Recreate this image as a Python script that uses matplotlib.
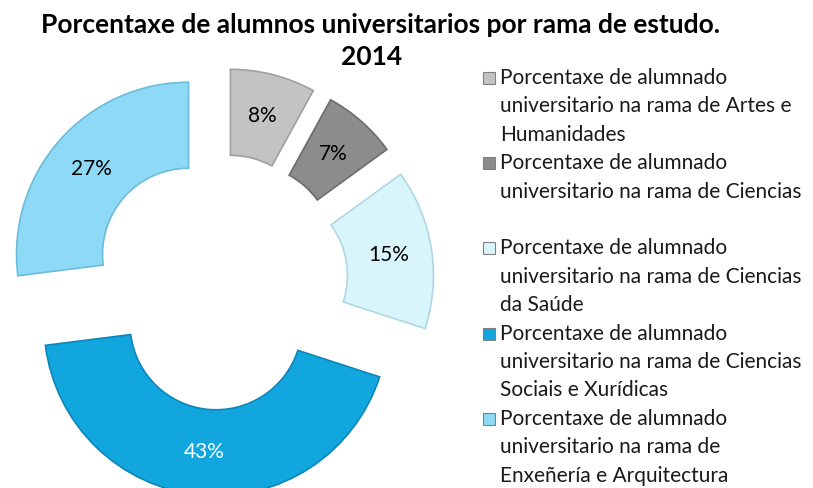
import matplotlib.pyplot as plt
from matplotlib.patches import Rectangle

# data
values = [8, 7, 15, 43, 27]
legend_labels = [
    ['Porcentaxe de alumnado', 'universitario na rama de Artes e', 'Humanidades'],
    ['Porcentaxe de alumnado', 'universitario na rama de Ciencias'],
    ['Porcentaxe de alumnado', 'universitario na rama de Ciencias', 'da Saúde'],
    ['Porcentaxe de alumnado', 'universitario na rama de Ciencias', 'Sociais e Xurídicas'],
    ['Porcentaxe de alumnado', 'universitario na rama de', 'Enxeñería e Arquitectura'],
]
title = 'Porcentaxe de alumnos universitarios por rama de estudo.'
subtitle = '2014'

colors = ['#c3c3c3', '#8c8c8c', '#d9f5fc', '#12a6df', '#8ed9f6']
edge_colors = ['#a0a0a0', '#6c6c6c', '#aed8e4', '#0c86b8', '#6cbcdc']
pct_colors = ['black', 'black', 'black', 'white', 'black']

plt.rcParams['font.family'] = ['Lato', 'DejaVu Sans']

W, H = 813, 488
fig = plt.figure(figsize=(W / 100, H / 100), dpi=100)
ax = fig.add_axes([0, 0, 1, 1])

# donut geometry in pixels
R = 172
cx, cy = 220, 282

wedges, texts, autotexts = ax.pie(
    values, radius=1, startangle=90, counterclock=False,
    explode=[0.244] * len(values), colors=colors,
    wedgeprops=dict(width=0.5, linewidth=1.2),
    autopct='%d%%', pctdistance=0.75,
    textprops=dict(fontsize=15))
for w, ec in zip(wedges, edge_colors):
    w.set_edgecolor(ec)
for t, c in zip(autotexts, pct_colors):
    t.set_color(c)

ax.set_xlim(-cx / R, (W - cx) / R)
ax.set_ylim(-(H - cy) / R, cy / R)
ax.axis('off')

# title
fig.text(380 / W, 1 - 25 / H, title, ha='center', va='center',
         fontsize=19, fontweight='bold')
fig.text(372 / W, 1 - 57 / H, subtitle, ha='center', va='center',
         fontsize=19, fontweight='bold')

# legend drawn by hand: each entry takes three line slots
line_pitch = 28.4
y0 = 78
for i, lines in enumerate(legend_labels):
    ytop = y0 + 3 * i * line_pitch
    fig.patches.append(Rectangle((483 / W, 1 - (ytop + 6) / H), 12 / W, 12 / H,
                                 transform=fig.transFigure, facecolor=colors[i],
                                 edgecolor='#808080', linewidth=0.8))
    for j, line in enumerate(lines):
        fig.text(500 / W, 1 - (ytop + j * line_pitch) / H, line,
                 ha='left', va='center', fontsize=15, color='#1a1a1a')

fig.savefig('out.png', dpi=100)
